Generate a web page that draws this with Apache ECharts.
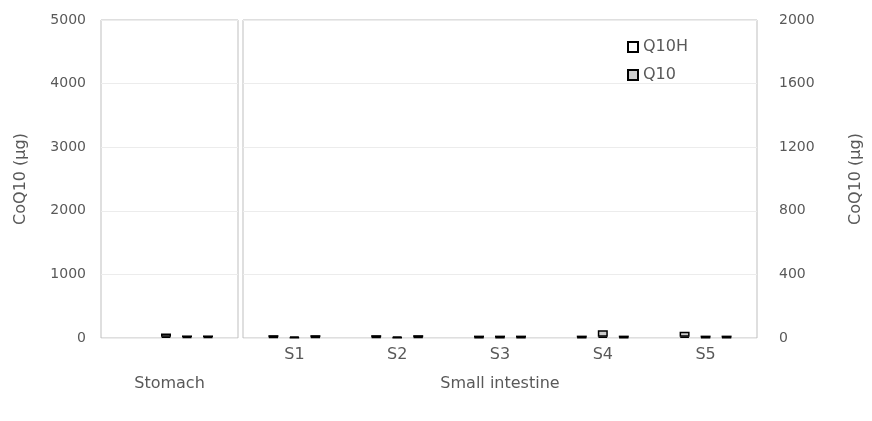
<!DOCTYPE html>
<html><head><meta charset="utf-8">
<script src="https://cdn.jsdelivr.net/npm/echarts@6/dist/echarts.min.js"></script>
<style>html,body{margin:0;padding:0;background:#fff}#c{width:872px;height:421px}</style>
</head><body><div id="c"></div>
<script>
// Data
const intestineCats = ['S1', 'S2', 'S3', 'S4', 'S5'];
const leftTicks = [0, 1000, 2000, 3000, 4000, 5000];
const rightTicks = [0, 400, 800, 1200, 1600, 2000];
// Stomach (left axis, μg): three bars, each stacked Q10H + Q10
const stomachQ10H = [[20], [15], [15]];
const stomachQ10 = [[50], [25], [25]];
// Small intestine (right axis, μg): three bars per segment S1..S5
const intQ10H_1 = [5, 5, 4, 4, 8];
const intQ10_1 = [13, 13, 11, 11, 32];
const intQ10H_2 = [3, 3, 4, 8, 4];
const intQ10_2 = [7, 7, 11, 40, 11];
const intQ10H_3 = [5, 5, 4, 4, 4];
const intQ10_3 = [13, 13, 11, 11, 11];

const txt = '#595959';
const font = 'DejaVu Sans';
const barStyleH = {color: '#ffffff', borderColor: '#000000', borderWidth: 1.5};
const barStyleQ = {color: '#cccccc', borderColor: '#000000', borderWidth: 1.5};

function pair(xi, yi, h, q, stack) {
  return [
    {name: 'Q10H', type: 'bar', xAxisIndex: xi, yAxisIndex: yi, stack: stack, data: h,
     barWidth: 10, barGap: '110%', itemStyle: barStyleH, emphasis: {disabled: true}},
    {name: 'Q10', type: 'bar', xAxisIndex: xi, yAxisIndex: yi, stack: stack, data: q,
     barWidth: 10, barGap: '110%', itemStyle: barStyleQ, emphasis: {disabled: true}}
  ];
}

const series = [].concat(
  pair(1, 1, stomachQ10H[0], stomachQ10[0], 's1'),
  pair(1, 1, stomachQ10H[1], stomachQ10[1], 's2'),
  pair(1, 1, stomachQ10H[2], stomachQ10[2], 's3'),
  pair(2, 2, intQ10H_1, intQ10_1, 'i1'),
  pair(2, 2, intQ10H_2, intQ10_2, 'i2'),
  pair(2, 2, intQ10H_3, intQ10_3, 'i3')
);

const plain = v => String(v);
const chart = echarts.init(document.getElementById('c'), null, {renderer: 'canvas'});
chart.setOption({
  animation: false,
  textStyle: {fontFamily: font, color: txt},
  legend: {
    data: ['Q10H', 'Q10'], orient: 'vertical', left: 622, top: 34,
    itemWidth: 10, itemHeight: 10, itemGap: 12,
    textStyle: {fontFamily: font, fontSize: 16, color: txt, padding: [0, 0, 0, 0]},
    icon: 'rect'
  },
  grid: [
    {left: 101, top: 20, width: 137, height: 318, show: true, borderColor: '#bfbfbf', borderWidth: 1, containLabel: false},
    {left: 135, top: 20, width: 104, height: 318, containLabel: false},
    {left: 243, top: 20, width: 519, height: 318, show: true, borderColor: '#bfbfbf', borderWidth: 1, containLabel: false}
  ],
  xAxis: [
    {type: 'category', gridIndex: 0, data: [''], axisLine: {show: false}, axisTick: {show: false}, axisLabel: {show: false},
     name: 'Stomach', nameLocation: 'middle', nameGap: 38, nameTextStyle: {fontFamily: font, fontSize: 16, color: txt}},
    {type: 'category', gridIndex: 1, data: [''], show: false},
    {type: 'category', gridIndex: 2, data: intestineCats, axisLine: {show: false}, axisTick: {show: false},
     axisLabel: {margin: 9, fontFamily: font, fontSize: 16, color: txt},
     name: 'Small intestine', nameLocation: 'middle', nameGap: 38, nameTextStyle: {fontFamily: font, fontSize: 16, color: txt}}
  ],
  yAxis: [
    {type: 'value', gridIndex: 0, position: 'left', min: leftTicks[0], max: leftTicks[leftTicks.length - 1], interval: leftTicks[1] - leftTicks[0],
     axisLine: {show: false}, axisTick: {show: false},
     axisLabel: {margin: 15, fontFamily: font, fontSize: 14, color: txt, formatter: plain},
     splitLine: {show: true, lineStyle: {color: '#ececec', width: 1}},
     name: 'CoQ10 (μg)', nameLocation: 'middle', nameRotate: 90, nameGap: 72,
     nameTextStyle: {fontFamily: font, fontSize: 16, color: txt}},
    {type: 'value', gridIndex: 1, min: leftTicks[0], max: leftTicks[leftTicks.length - 1], interval: leftTicks[1] - leftTicks[0], show: false},
    {type: 'value', gridIndex: 2, position: 'right', min: rightTicks[0], max: rightTicks[rightTicks.length - 1], interval: rightTicks[1] - rightTicks[0],
     axisLine: {show: false}, axisTick: {show: false},
     axisLabel: {margin: 22, fontFamily: font, fontSize: 14, color: txt, formatter: plain},
     splitLine: {show: true, lineStyle: {color: '#ececec', width: 1}},
     name: 'CoQ10 (μg)', nameLocation: 'middle', nameRotate: 90, nameGap: 91,
     nameTextStyle: {fontFamily: font, fontSize: 16, color: txt}}
  ],
  series: series
});
</script></body></html>
